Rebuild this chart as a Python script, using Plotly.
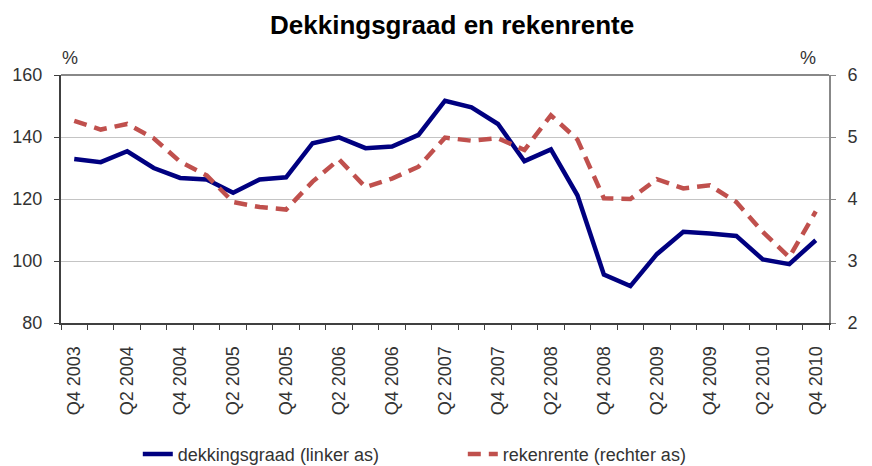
import plotly.graph_objects as go

quarters = [
    "Q4 2003", "Q1 2004", "Q2 2004", "Q3 2004", "Q4 2004",
    "Q1 2005", "Q2 2005", "Q3 2005", "Q4 2005",
    "Q1 2006", "Q2 2006", "Q3 2006", "Q4 2006",
    "Q1 2007", "Q2 2007", "Q3 2007", "Q4 2007",
    "Q1 2008", "Q2 2008", "Q3 2008", "Q4 2008",
    "Q1 2009", "Q2 2009", "Q3 2009", "Q4 2009",
    "Q1 2010", "Q2 2010", "Q3 2010", "Q4 2010",
]
tick_labels = [q if i % 2 == 0 else "" for i, q in enumerate(quarters)]

dekkingsgraad = [132.9, 131.9, 135.4, 130.0, 126.8, 126.3, 122.0, 126.3, 127.0,
                 138.0, 139.9, 136.4, 136.9, 140.7, 151.7, 149.6, 144.2, 132.2,
                 136.0, 121.2, 95.6, 91.9, 102.2, 109.4, 108.9, 108.1, 100.5,
                 99.0, 106.7]
rekenrente = [5.26, 5.12, 5.21, 4.98, 4.60, 4.38, 3.95, 3.87, 3.83,
              4.28, 4.64, 4.19, 4.33, 4.52, 4.99, 4.94, 4.98, 4.79,
              5.35, 4.96, 4.01, 4.00, 4.32, 4.17, 4.22, 3.95, 3.47,
              3.06, 3.80]

FONT = "Liberation Sans, Arial, sans-serif"
TXT = "#333333"

fig = go.Figure()
fig.add_trace(go.Scatter(
    x=quarters, y=dekkingsgraad, name="dekkingsgraad (linker as)",
    mode="lines", line=dict(color="#000080", width=4.5),
    yaxis="y",
))
fig.add_trace(go.Scatter(
    x=quarters, y=rekenrente, name="rekenrente (rechter as)",
    mode="lines", line=dict(color="#C0504D", width=4.5, dash="13px,8px"),
    yaxis="y2",
))

fig.update_layout(
    width=864, height=458, autosize=False,
    margin=dict(l=53, r=43, t=67, b=143, autoexpand=False),
    paper_bgcolor="white", plot_bgcolor="white",
    font=dict(family=FONT, size=17, color=TXT),
    title=dict(text="<b>Dekkingsgraad en rekenrente</b>",
               x=0.514, xref="container", xanchor="center",
               y=0.963, yref="container", yanchor="middle",
               font=dict(family=FONT, size=26, color="black")),
    xaxis=dict(
        type="category", categoryorder="array", categoryarray=quarters,
        tickvals=quarters, ticktext=tick_labels, tickson="boundaries",
        ticks="outside", ticklen=5, tickcolor="#404040", tickwidth=1,
        tickangle=-90, tickfont=dict(size=18, color=TXT),
        ticklabelstandoff=14, automargin=False,
        showline=True, linecolor="#404040", linewidth=2,
        showgrid=False, range=[-0.5, 28.5],
    ),
    yaxis=dict(
        range=[80, 160], dtick=20, tick0=80, automargin=False,
        showgrid=True, gridcolor="#c4c4c4", gridwidth=1,
        showline=True, linecolor="#404040", linewidth=2,
        ticks="outside", ticklen=5, tickcolor="#404040",
        tickfont=dict(size=18, color=TXT), ticklabelstandoff=8,
        zeroline=False,
    ),
    yaxis2=dict(
        range=[2, 6], dtick=1, tick0=2, overlaying="y", side="right",
        automargin=False,
        showgrid=False, showline=True, linecolor="#888888", linewidth=2,
        ticks="outside", ticklen=5, tickcolor="#888888",
        tickfont=dict(size=18, color=TXT), ticklabelstandoff=8,
        zeroline=False,
    ),
    legend=dict(
        orientation="h", x=0.10, xanchor="left",
        y=0.066, yref="container", yanchor="top",
        entrywidth=280, entrywidthmode="pixels",
        font=dict(family=FONT, size=18, color=TXT),
        bgcolor="rgba(0,0,0,0)",
    ),
    shapes=[dict(type="line", xref="paper", yref="paper", x0=0, x1=1, y0=1, y1=1,
                 line=dict(color="#888888", width=2))],
    annotations=[
        dict(text="%", xref="paper", yref="paper", x=0.012, y=1.069,
             showarrow=False, font=dict(size=18, color=TXT), xanchor="center", yanchor="middle"),
        dict(text="%", xref="paper", yref="paper", x=0.973, y=1.069,
             showarrow=False, font=dict(size=18, color=TXT), xanchor="center", yanchor="middle"),
    ],
)

fig.write_html("out.html")
